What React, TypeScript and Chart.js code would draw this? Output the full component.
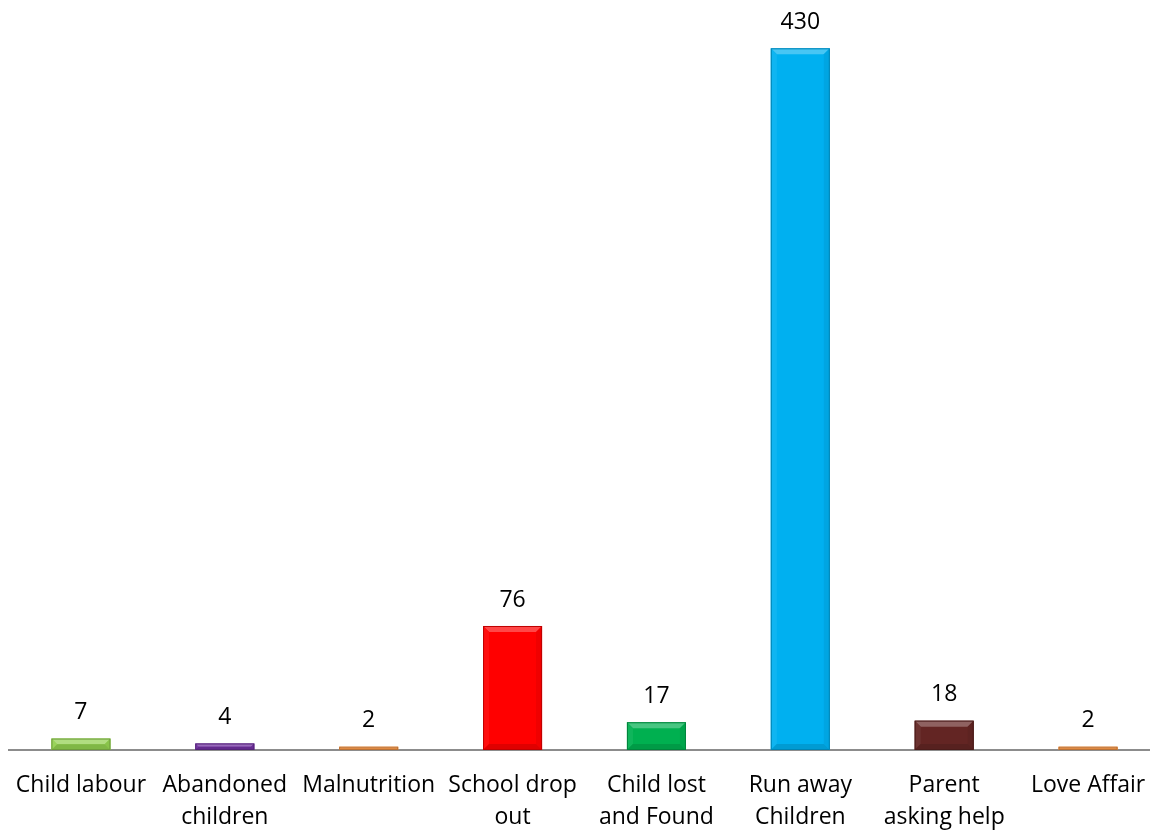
import React, { useEffect, useRef } from "react";
import { Chart, registerables } from "chart.js";

Chart.register(...registerables);

const categories: (string | string[])[] = [
  "Child labour",
  ["Abandoned", "children"],
  "Malnutrition",
  ["School drop", "out"],
  ["Child lost", "and Found"],
  ["Run away", "Children"],
  ["Parent", "asking help"],
  "Love Affair",
];
const values: number[] = [7, 4, 2, 76, 17, 430, 18, 2];
const barColors: string[] = [
  "#92D050",
  "#7030A0",
  "#F79646",
  "#FF0000",
  "#00B050",
  "#00B0F0",
  "#632523",
  "#F79646",
];

const FONT = "'Open Sans', 'DejaVu Sans', sans-serif";
const FONT_SIZE = 23;

function mix(hex: string, target: number, amt: number): string {
  const n = parseInt(hex.slice(1), 16);
  const r = (n >> 16) & 255, g = (n >> 8) & 255, b = n & 255;
  const f = (c: number) => Math.round(c + (target - c) * amt);
  return `rgb(${f(r)},${f(g)},${f(b)})`;
}

const bevelPlugin = {
  id: "bevel",
  afterDatasetsDraw(chart: any) {
    const ctx = chart.ctx;
    const meta = chart.getDatasetMeta(0);
    meta.data.forEach((bar: any, i: number) => {
      const { x, y, base, width } = bar.getProps(["x", "y", "base", "width"], true);
      const l = x - width / 2, r = x + width / 2, t = y, btm = base;
      const b = Math.min(6, (btm - t) / 2);
      const c = barColors[i];
      const poly = (pts: number[][], fill: string) => {
        ctx.beginPath();
        ctx.moveTo(pts[0][0], pts[0][1]);
        for (let k = 1; k < pts.length; k++) ctx.lineTo(pts[k][0], pts[k][1]);
        ctx.closePath();
        ctx.fillStyle = fill;
        ctx.fill();
      };
      ctx.save();
      poly([[l, t], [r, t], [r - b, t + b], [l + b, t + b]], mix(c, 255, 0.28));
      poly([[l, t], [l + b, t + b], [l + b, btm - b], [l, btm]], mix(c, 255, 0.06));
      poly([[r, t], [r, btm], [r - b, btm - b], [r - b, t + b]], mix(c, 0, 0.06));
      poly([[l, btm], [r, btm], [r - b, btm - b], [l + b, btm - b]], mix(c, 0, 0.12));
      ctx.strokeStyle = mix(c, 0, 0.25);
      ctx.lineWidth = 1;
      ctx.strokeRect(l + 0.5, t + 0.5, width - 1, btm - t - 1);
      ctx.restore();
    });
  },
};

const labelPlugin = {
  id: "valueLabels",
  afterDatasetsDraw(chart: any) {
    const ctx = chart.ctx;
    const meta = chart.getDatasetMeta(0);
    ctx.save();
    ctx.font = `${FONT_SIZE}px ${FONT}`;
    ctx.fillStyle = "#000000";
    ctx.textAlign = "center";
    ctx.textBaseline = "middle";
    meta.data.forEach((bar: any, i: number) => {
      ctx.fillText(String(values[i]), bar.x, bar.y - 26);
    });
    ctx.restore();
  },
};

export default function App() {
  const ref = useRef<HTMLCanvasElement>(null);
  useEffect(() => {
    if (!ref.current) return;
    const chart = new Chart(ref.current, {
      type: "bar",
      data: {
        labels: categories,
        datasets: [
          {
            data: values,
            backgroundColor: barColors,
            borderWidth: 0,
            barPercentage: 0.41,
            categoryPercentage: 1,
          },
        ],
      },
      options: {
        animation: false,
        responsive: false,
        devicePixelRatio: 1,
        layout: { padding: { left: 1, right: 0, top: 24, bottom: 0 } },
        plugins: { legend: { display: false }, tooltip: { enabled: false } },
        scales: {
          x: {
            grid: { display: false, drawTicks: false },
            border: { display: true, color: "#8C8C8C", width: 2 },
            ticks: {
              color: "#000000",
              padding: 19,
              maxRotation: 0,
              autoSkip: false,
              font: { family: FONT, size: FONT_SIZE, lineHeight: 1.4 },
            },
            afterFit: (scale: any) => {
              scale.height = 81;
              scale.paddingLeft = 0;
              scale.paddingRight = 0;
            },
          },
          y: {
            display: false,
            min: 0,
            max: 440,
          },
        },
      },
      plugins: [bevelPlugin, labelPlugin],
    });
    return () => chart.destroy();
  }, []);
  return (
    <div style={{ position: "fixed", left: 8, top: 8, width: 1142, height: 823, overflow: "hidden" }}>
      <canvas ref={ref} width={1152} height={823} style={{ display: "block" }} />
    </div>
  );
}
